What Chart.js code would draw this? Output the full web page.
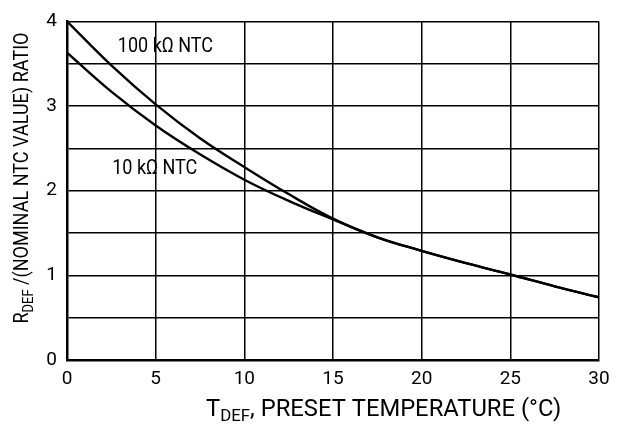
<!DOCTYPE html>
<html>
<head>
<meta charset="utf-8">
<script src="https://cdn.jsdelivr.net/npm/chart.js@4"></script>
<style>
html,body{margin:0;padding:0;background:#fff;}
#wrap{width:621px;height:424px;position:relative;}
</style>
</head>
<body>
<div id="wrap"><canvas id="c" width="621" height="424"></canvas></div>
<script>
const temps = [0, 2.5, 5, 7.5, 10, 12.5, 15, 17.5, 20, 22.5, 25, 27.5, 30];
const ntc100k = [4.0, 3.48, 3.02, 2.62, 2.28, 1.96, 1.67, 1.45, 1.29, 1.145, 1.01, 0.87, 0.74];
const ntc10k  = [3.63, 3.17, 2.77, 2.43, 2.13, 1.88, 1.66, 1.45, 1.29, 1.145, 1.01, 0.87, 0.74];
const seriesLabels = ['100 k\u03A9 NTC', '10 k\u03A9 NTC'];
const yTicks = [0, 1, 2, 3, 4];
const xTicks = [0, 5, 10, 15, 20, 25, 30];

const FONT = 'Roboto, "Liberation Sans", sans-serif';

const pts = arr => temps.map((t, i) => ({x: t, y: arr[i]}));

function drawParts(ctx, parts, x, y, scaleX) {
  ctx.save();
  ctx.translate(x, y);
  ctx.scale(scaleX, 1);
  let cx = 0;
  parts.forEach(p => {
    ctx.font = p[1] + 'px ' + FONT;
    ctx.fillText(p[0], cx, p[2]);
    cx += ctx.measureText(p[0]).width;
  });
  ctx.restore();
}
function partsWidth(ctx, parts) {
  let w = 0;
  parts.forEach(p => { ctx.font = p[1] + 'px ' + FONT; w += ctx.measureText(p[0]).width; });
  return w;
}

const annot = {
  id: 'annot',
  afterDraw(chart) {
    const ctx = chart.ctx;
    const xs = chart.scales.x, ys = chart.scales.y;
    ctx.save();
    ctx.fillStyle = '#000';
    ctx.textBaseline = 'alphabetic';
    ctx.textAlign = 'left';
    // curve labels
    const l1 = [[seriesLabels[0], 20, 0]];
    const l2 = [[seriesLabels[1], 20, 0]];
    const sc = 0.9;
    drawParts(ctx, l1, xs.getPixelForValue(5.55) - partsWidth(ctx, l1) * sc / 2, ys.getPixelForValue(3.64), sc);
    drawParts(ctx, l2, xs.getPixelForValue(4.95) - partsWidth(ctx, l2) * sc / 2, ys.getPixelForValue(2.2), sc);
    // x title with subscript
    const xt = [['T', 24, 0], ['DEF', 17, 5], [', PRESET TEMPERATURE (\u00B0C)', 24, 0]];
    drawParts(ctx, xt, 206, 416, 0.99);
    // y title
    const yt = [['R', 21, 0], ['DEF', 15, 5], [' /(NOMINAL NTC VALUE) RATIO', 21, 0]];
    const ysc = 0.86;
    const w = partsWidth(ctx, yt) * ysc;
    ctx.save();
    ctx.translate(28, 178);
    ctx.rotate(-Math.PI / 2);
    drawParts(ctx, yt, -w / 2, 0, ysc);
    ctx.restore();
    ctx.restore();
  }
};

new Chart(document.getElementById('c'), {
  type: 'line',
  data: {
    datasets: [
      {label: seriesLabels[0], data: pts(ntc100k), borderColor: '#000', borderWidth: 2.4, pointRadius: 0, tension: 0.4, fill: false},
      {label: seriesLabels[1], data: pts(ntc10k), borderColor: '#000', borderWidth: 2.4, pointRadius: 0, tension: 0.4, fill: false}
    ]
  },
  options: {
    responsive: false,
    animation: false,
    layout: {padding: {left: 0, right: 22, top: 17, bottom: 0}},
    plugins: {legend: {display: false}, tooltip: {enabled: false}},
    scales: {
      x: {
        type: 'linear', min: 0, max: 30,
        afterBuildTicks: s => { s.ticks = xTicks.map(v => ({value: v})); },
        afterFit: s => { s.height = 64; },
        grid: {color: '#000', lineWidth: 1.5, drawTicks: false},
        border: {color: '#000', width: 2.5},
        ticks: {color: '#000', padding: 8, font: {size: 19, family: FONT}, maxRotation: 0}
      },
      y: {
        min: 0, max: 4,
        ticks: {stepSize: 0.5, color: '#000', padding: 10, font: {size: 19, family: FONT},
          callback: v => (yTicks.includes(v) ? String(v) : '')},
        afterFit: s => { s.width = 67; },
        grid: {color: '#000', lineWidth: 1.5, drawTicks: false},
        border: {color: '#000', width: 2.5}
      }
    }
  },
  plugins: [annot]
});
</script>
</body>
</html>
